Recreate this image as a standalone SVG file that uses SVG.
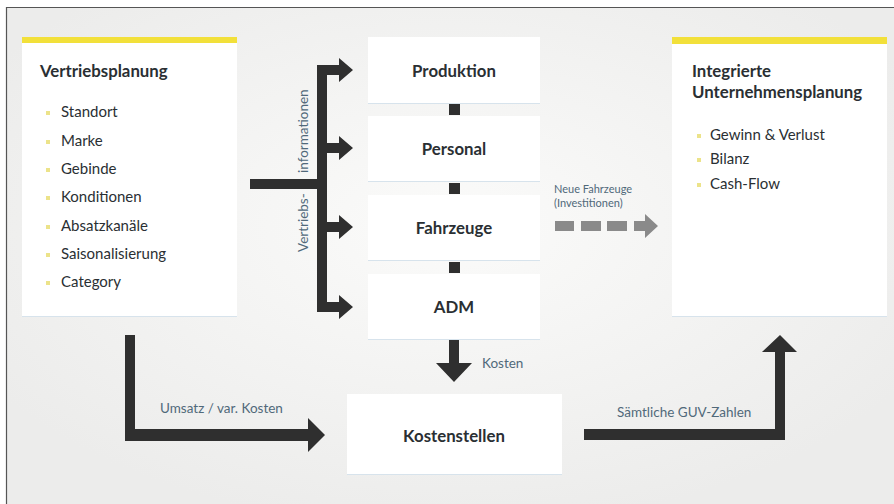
<svg xmlns="http://www.w3.org/2000/svg" width="894" height="504" viewBox="0 0 894 504">
<defs>
<radialGradient id="bg" cx="0.5" cy="0.45" r="0.6">
<stop offset="0" stop-color="#fbfbfa"/>
<stop offset="1" stop-color="#ececeb"/>
</radialGradient>
<style>
.box{fill:#ffffff;}
.shadow{fill:#d7e3ec;}
.bar{fill:#f2e03a;}
.title{font-family:Lato,"Open Sans",sans-serif;font-weight:bold;font-size:16.8px;fill:#2a2f33;}
.item{font-family:Lato,"Open Sans",sans-serif;font-size:15px;fill:#2a2f33;}
.node{font-family:Lato,"Open Sans",sans-serif;font-weight:bold;font-size:16.8px;fill:#2a2f33;text-anchor:middle;}
.lbl{font-family:Lato,"Open Sans",sans-serif;font-size:13.5px;fill:#50697a;}
.dot{fill:#ece38a;}
.dark{fill:#2f2f2f;}
.sq{fill:#2f2f2f;}
</style>
</defs>
<rect x="0" y="0" width="894" height="504" fill="url(#bg)"/>
<rect x="0" y="0" width="894" height="7" fill="#ffffff"/>
<rect x="0" y="0" width="6" height="504" fill="#ffffff"/>
<line x1="6" y1="7.5" x2="894" y2="7.5" stroke="#555" stroke-width="1.2"/>
<line x1="6.5" y1="7" x2="6.5" y2="504" stroke="#555" stroke-width="1.2"/>

<g id="vertriebsplanung">
<rect class="shadow" x="22" y="38" width="215" height="279"/>
<rect class="box" x="22" y="37" width="215" height="279"/>
<rect class="bar" x="22" y="37" width="215" height="6"/>
<text class="title" x="40" y="77">Vertriebsplanung</text>
<rect class="dot" x="46" y="111" width="4" height="4"/>
<text class="item" x="61" y="117">Standort</text>
<rect class="dot" x="46" y="140" width="4" height="4"/>
<text class="item" x="61" y="146">Marke</text>
<rect class="dot" x="46" y="168" width="4" height="4"/>
<text class="item" x="61" y="174">Gebinde</text>
<rect class="dot" x="46" y="196" width="4" height="4"/>
<text class="item" x="61" y="202">Konditionen</text>
<rect class="dot" x="46" y="225" width="4" height="4"/>
<text class="item" x="61" y="231">Absatzkanäle</text>
<rect class="dot" x="46" y="253" width="4" height="4"/>
<text class="item" x="61" y="259">Saisonalisierung</text>
<rect class="dot" x="46" y="281" width="4" height="4"/>
<text class="item" x="61" y="287">Category</text>
</g>

<g id="produktion">
<rect class="shadow" x="368" y="38" width="172" height="66"/>
<rect class="box" x="368" y="37" width="172" height="66"/>
<text class="node" x="454" y="77">Produktion</text>
</g>
<g id="personal">
<rect class="shadow" x="368" y="117" width="172" height="65"/>
<rect class="box" x="368" y="116" width="172" height="65"/>
<text class="node" x="454" y="155">Personal</text>
</g>
<g id="fahrzeuge">
<rect class="shadow" x="368" y="196" width="172" height="65"/>
<rect class="box" x="368" y="195" width="172" height="65"/>
<text class="node" x="454" y="234">Fahrzeuge</text>
</g>
<g id="adm">
<rect class="shadow" x="368" y="275" width="172" height="65"/>
<rect class="box" x="368" y="274" width="172" height="65"/>
<text class="node" x="454" y="313">ADM</text>
</g>
<g id="kostenstellen">
<rect class="shadow" x="347" y="395" width="215" height="80"/>
<rect class="box" x="347" y="394" width="215" height="80"/>
<text class="node" x="454" y="442">Kostenstellen</text>
</g>

<g id="integrierte-unternehmensplanung">
<rect class="shadow" x="672" y="38" width="215" height="279"/>
<rect class="box" x="672" y="37" width="215" height="279"/>
<rect class="bar" x="672" y="37" width="215" height="7"/>
<text class="title" x="692" y="77">Integrierte</text>
<text class="title" x="692" y="98">Unternehmensplanung</text>
<rect class="dot" x="697" y="134" width="4" height="4"/>
<text class="item" x="710" y="140">Gewinn &amp; Verlust</text>
<rect class="dot" x="697" y="158" width="4" height="4"/>
<text class="item" x="710" y="164">Bilanz</text>
<rect class="dot" x="697" y="183" width="4" height="4"/>
<text class="item" x="710" y="189">Cash-Flow</text>
</g>

<g id="connectors">
<rect class="sq" x="449" y="104" width="11" height="11"/>
<rect class="sq" x="449" y="183" width="11" height="11"/>
<rect class="sq" x="449" y="262" width="11" height="11"/>
<rect class="dark" x="250" y="179" width="77" height="10"/>
<rect class="dark" x="317" y="65" width="10" height="247"/>
<path class="dark" d="M317 65 H339 V58 L353 70 L339 82 V75 H317 Z"/>
<path class="dark" d="M317 143 H339 V136 L353 148 L339 160 V153 H317 Z"/>
<path class="dark" d="M317 222 H339 V215 L353 227 L339 239 V232 H317 Z"/>
<path class="dark" d="M317 302 H339 V295 L353 307 L339 319 V312 H317 Z"/>
<text class="lbl" transform="translate(308,173) rotate(-90)">informationen</text>
<text class="lbl" transform="translate(308,252) rotate(-90)">Vertriebs-</text>
<text class="lbl" x="554" y="193" style="font-size:11px">Neue Fahrzeuge</text>
<text class="lbl" x="554" y="207" style="font-size:11px">(Investitionen)</text>
<g fill="#8a8a8a">
<rect x="555" y="221" width="19" height="10"/>
<rect x="581" y="221" width="20" height="10"/>
<rect x="607" y="221" width="20" height="10"/>
<path d="M634 221 H645 V214 L658 226 L645 238 V231 H634 Z"/>
</g>
<path class="dark" d="M449 340 H459 V363 H472 L454 382 L436 363 H449 Z"/>
<text class="lbl" x="482" y="368">Kosten</text>
<path class="dark" d="M125 335 H135 V429 H308 V418 L325 435 L308 452 V441 H125 Z"/>
<text class="lbl" x="160" y="413">Umsatz / var. Kosten</text>
<path class="dark" d="M584 429 H775 V352 H762 L780 335 L797 352 H785 V440 H584 Z"/>
<text class="lbl" x="617" y="417">Sämtliche GUV-Zahlen</text>
</g>
</svg>
